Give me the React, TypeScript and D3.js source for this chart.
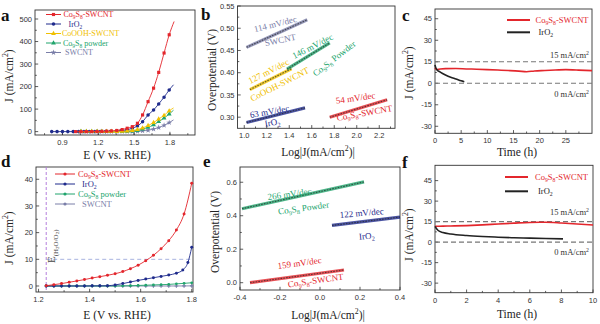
import React from 'react';
import * as d3 from 'd3';

const RED = '#e3262c';
const NAVY = '#1f2b8c';
const GOLD = '#f0c000';
const GREEN = '#20a46c';
const GRAY = '#7a7ea8';
const DARK = '#222';
const SERIF = '"Liberation Serif", "Times New Roman", serif';
const SANS = '"Liberation Sans", Arial, sans-serif';

// ---------- Panel a (LSV, full) ----------
const aRedE = [1.01, 1.055, 1.1, 1.145, 1.19, 1.23, 1.27, 1.31, 1.355, 1.4, 1.442, 1.485, 1.528, 1.571, 1.617, 1.663, 1.706, 1.751, 1.794, 1.835];
const aRedJ = [0, 0, 0, 0, 0.5, 1, 2, 3, 5, 9, 15, 22, 37, 74, 133, 193, 263, 349, 430, 489];
const aBlueE = [0.81, 0.855, 0.9, 0.945, 0.99, 1.035, 1.08, 1.125, 1.17, 1.215, 1.26, 1.3, 1.35, 1.39, 1.44, 1.485, 1.528, 1.571, 1.617, 1.663, 1.706, 1.751, 1.794, 1.83];
const aBlueJ = [0, 0, 0, 0, 0, 0, 0, 0, 0, 0, 0, 0.5, 1.5, 4, 8, 15, 25, 44, 74, 96, 123, 153, 185, 208];
const aOtherE = [1.055, 1.1, 1.145, 1.19, 1.23, 1.27, 1.31, 1.355, 1.4, 1.442, 1.485, 1.528, 1.571, 1.617, 1.663, 1.706, 1.751, 1.794, 1.83];
const aGoldJ = [0, 0, 0, 0, 0, 0, 0, 0.5, 1, 2, 5, 9, 16, 27, 40, 56, 72, 92, 105];
const aGreenJ = [0, 0, 0, 0, 0, 0, 0, 0, 0.5, 1, 2, 5, 11, 19, 30, 44, 60, 78, 95];
const aGrayJ = [0, 0, 0, 0, 0, 0, 0, 0, 0, 0, 0.5, 1, 3, 6, 11, 18, 28, 40, 52];
const aLegend = ['Co_9S_8-SWCNT', 'IrO_2', 'CoOOH-SWCNT', 'Co_9S_8 powder', 'SWCNT'];

// ---------- Panel b (Tafel, full) ----------
const bSWCNT = [[1.02, 0.457], [1.56, 0.519]];
const bCoOOH = [[1.05, 0.362], [1.42, 0.409]];
const bPowder = [[1.38, 0.408], [1.76, 0.467]];
const bIrO2 = [[1.02, 0.288], [1.54, 0.321]];
const bCoS = [[1.76, 0.300], [2.27, 0.339]];

// ---------- Panel c (stability, full) ----------
const cRedT = [0, 0.3, 1, 2, 4, 6, 8, 10, 12, 14, 16, 17.5, 19, 21, 23, 25, 27, 30];
const cRedJ = [10.8, 9.6, 10, 10.2, 10.3, 10, 9.8, 9.5, 9.2, 8.9, 8.5, 8.0, 8.6, 8.9, 9.2, 9.5, 9.2, 8.8];
const cBlackT = [0, 0.15, 0.4, 1, 2, 3, 4, 5, 5.6];
const cBlackJ = [12.8, 10.8, 9.3, 7.8, 5.8, 4.2, 3.0, 1.7, 1.1];

// ---------- Panel d (LSV, near onset) ----------
const dE = [1.23, 1.26, 1.29, 1.32, 1.35, 1.38, 1.41, 1.44, 1.47, 1.5, 1.53, 1.56, 1.59, 1.62, 1.65, 1.68, 1.71, 1.74, 1.77, 1.8];
const dRedJ = [0.1, 0.5, 0.9, 1.4, 1.9, 2.4, 3.0, 3.5, 4.0, 4.6, 5.4, 6.5, 7.8, 9.5, 11.5, 14, 17, 21, 27, 38.5];
const dBlueE = [1.23, 1.26, 1.29, 1.32, 1.35, 1.38, 1.41, 1.44, 1.47, 1.5, 1.53, 1.56, 1.59, 1.62, 1.65, 1.68, 1.71, 1.74, 1.765, 1.785, 1.8];
const dBlueJ = [0, 0, 0, 0, 0, 0, 0.05, 0.05, 0.1, 0.4, 0.9, 1.5, 2.1, 2.6, 3.1, 3.6, 4.1, 4.8, 6.0, 8.8, 14.5];
const dGreenJ = [0, 0, 0, 0, 0, 0, 0, 0, 0, 0, 0.05, 0.1, 0.2, 0.3, 0.4, 0.5, 0.6, 0.8, 1.0, 1.2];
const dGrayJ = [0, 0, 0, 0, 0, 0, 0, 0, 0, 0, 0, 0, 0, 0, 0, 0, 0, 0, 0.02, 0.05];
const dLegend = ['Co_9S_8-SWCNT', 'IrO_2', 'Co_9S_8 powder', 'SWCNT'];

// ---------- Panel e (Tafel, onset) ----------
const ePowder = [[-0.39, 0.442], [0.22, 0.602]];
const eIrO2 = [[0.06, 0.342], [0.40, 0.392]];
const eCoS = [[-0.35, 0.0], [0.12, 0.076]];

// ---------- Panel f (stability, onset) ----------
const fRedT = [0, 0.5, 1, 2, 3, 4, 5, 6, 7, 8, 9, 10];
const fRedJ = [11.6, 11.7, 11.8, 12.1, 12.6, 13.3, 13.9, 14.4, 14.5, 14.0, 13.3, 12.5];
const fBlackT = [0, 0.1, 0.2, 0.5, 1, 2, 3, 4, 5, 6, 7, 8.1];
const fBlackJ = [11.5, 9.8, 8.5, 7.0, 5.9, 4.8, 4.1, 3.6, 3.2, 2.9, 2.6, 2.4];

function Rich({ s, fs }: { s: string; fs: number }) {
  const parts: any[] = [];
  let buf = '';
  let pending = 0;
  let key = 0;
  const flush = () => {
    if (buf) {
      parts.push(<tspan key={key++} dy={pending || undefined} fontSize={fs}>{buf}</tspan>);
      buf = '';
      pending = 0;
    }
  };
  let i = 0;
  while (i < s.length) {
    const c = s[i];
    if ((c === '_' || c === '^') && i + 1 < s.length) {
      flush();
      let content = s[i + 1];
      i += 2;
      if (content === '{') {
        const j = s.indexOf('}', i);
        content = s.slice(i, j);
        i = j + 1;
      }
      const shift = c === '_' ? fs * 0.25 : -fs * 0.4;
      parts.push(<tspan key={key++} dy={shift + pending} fontSize={fs * 0.68}>{content}</tspan>);
      pending = -shift;
    } else {
      buf += c;
      i++;
    }
  }
  flush();
  return <>{parts}</>;
}

type Scale = d3.ScaleLinear<number, number>;

function Frame({ x, y, xt, xm, yt, ym, xf, yf }: { x: Scale; y: Scale; xt: number[]; xm: number[]; yt: number[]; ym: number[]; xf: (v: number) => string; yf: (v: number) => string }) {
  const [x0, x1] = x.range();
  const [y0, y1] = y.range();
  const st = '#333';
  return (
    <g>
      <rect x={x0} y={y1} width={x1 - x0} height={y0 - y1} fill="none" stroke={st} strokeWidth={0.9} />
      {xm.map((t) => <line key={'xm' + t} x1={x(t)} x2={x(t)} y1={y0} y2={y0 - 1.8} stroke={st} strokeWidth={0.8} />)}
      {ym.map((t) => <line key={'ym' + t} x1={x0} x2={x0 + 1.8} y1={y(t)} y2={y(t)} stroke={st} strokeWidth={0.8} />)}
      {xt.map((t) => (
        <g key={'xt' + t}>
          <line x1={x(t)} x2={x(t)} y1={y0} y2={y0 - 3.2} stroke={st} strokeWidth={0.8} />
          <text x={x(t)} y={y0 + 10} textAnchor="middle" fontFamily={SANS} fontSize={7.5} fill={st}>{xf(t)}</text>
        </g>
      ))}
      {yt.map((t) => (
        <g key={'yt' + t}>
          <line x1={x0} x2={x0 + 3.2} y1={y(t)} y2={y(t)} stroke={st} strokeWidth={0.8} />
          <text x={x0 - 3} y={y(t) + 2.6} textAnchor="end" fontFamily={SANS} fontSize={7.5} fill={st}>{yf(t)}</text>
        </g>
      ))}
    </g>
  );
}

function XTitle({ x, y, s }: { x: number; y: number; s: string }) {
  return <text x={x} y={y} textAnchor="middle" fontFamily={SERIF} fontSize={11.5} fill={DARK}><Rich s={s} fs={11.5} /></text>;
}
function YTitle({ x, y, s }: { x: number; y: number; s: string }) {
  return <text transform={`translate(${x},${y}) rotate(-90)`} textAnchor="middle" fontFamily={SERIF} fontSize={11.5} fill={DARK}><Rich s={s} fs={11.5} /></text>;
}
function PLabel({ x, y, s }: { x: number; y: number; s: string }) {
  return <text x={x} y={y} fontFamily={SERIF} fontWeight="bold" fontSize={17} fill="#111">{s}</text>;
}
function Lbl({ x, y, s, c, r = 0, fs = 9, anchor = 'middle' }: { x: number; y: number; s: string; c: string; r?: number; fs?: number; anchor?: string }) {
  return (
    <text transform={`translate(${x},${y}) rotate(${r})`} textAnchor={anchor as any} fontFamily={SERIF} fontSize={fs} fill={c}>
      <Rich s={s} fs={fs} />
    </text>
  );
}

const sym = (type: d3.SymbolType, size: number) => d3.symbol().type(type).size(size)() as string;

function Series({ x, y, E, J, color, mark, size = 10, skipLast = false }: { x: Scale; y: Scale; E: number[]; J: number[]; color: string; mark: d3.SymbolType; size?: number; skipLast?: boolean }) {
  const pts = E.map((e, i) => [e, J[i]] as [number, number]);
  const line = d3.line<[number, number]>().x((d) => x(d[0])).y((d) => y(d[1])).curve(d3.curveMonotoneX);
  const mp = skipLast ? pts.slice(0, -1) : pts;
  const p = sym(mark, size);
  return (
    <g>
      <path d={line(pts) || ''} fill="none" stroke={color} strokeWidth={0.9} />
      {mp.map((d, i) => <path key={i} d={p} transform={`translate(${x(d[0])},${y(d[1])})`} fill={color} />)}
    </g>
  );
}

function Tafel({ x, y, seg, color }: { x: Scale; y: Scale; seg: number[][]; color: string }) {
  const l = d3.line<number[]>().x((d) => x(d[0])).y((d) => y(d[1]));
  const dd = l(seg) || '';
  return (
    <g>
      <path d={dd} stroke={color} strokeWidth={3.2} fill="none" opacity={0.8} />
      <path d={dd} stroke="#222" strokeWidth={1.1} fill="none" strokeDasharray="1.6,1.2" opacity={0.7} />
    </g>
  );
}

function Trace({ x, y, T, J, color, w = 1.6 }: { x: Scale; y: Scale; T: number[]; J: number[]; color: string; w?: number }) {
  const l = d3.line<number>().x((t) => x(t)).y((_, i) => y(J[i])).curve(d3.curveMonotoneX);
  return <path d={l(T) || ''} stroke={color} strokeWidth={w} fill="none" />;
}

function LegendRow({ x1, x2, y, color, mark, text, tx, size = 10, fs = 8 }: { x1: number; x2: number; y: number; color: string; mark?: d3.SymbolType; text: string; tx: number; size?: number; fs?: number }) {
  return (
    <g>
      <line x1={x1} x2={x2} y1={y} y2={y} stroke={color} strokeWidth={mark ? 1 : 2} />
      {mark && <path d={sym(mark, size)} transform={`translate(${(x1 + x2) / 2},${y})`} fill={color} />}
      <text x={tx} y={y + 2.8} fontFamily={SERIF} fontSize={fs} fill={color}><Rich s={text} fs={fs} /></text>
    </g>
  );
}

const f1 = (v: number) => v.toFixed(1);
const f2 = (v: number) => v.toFixed(2);
const f0 = (v: number) => String(v);
const range = (a: number, b: number, s: number) => d3.range(a, b + s / 2, s).map((v) => +v.toFixed(4));

export default function App() {
  const ax = d3.scaleLinear().domain([0.67, 2.01]).range([35, 195]);
  const ay = d3.scaleLinear().domain([-15, 540]).range([135, 10]);
  const bx = d3.scaleLinear().domain([0.94, 2.34]).range([237.5, 395]);
  const by = d3.scaleLinear().domain([0.275, 0.55]).range([128.3, 6]);
  const cx = d3.scaleLinear().domain([0, 30]).range([435, 592]);
  const cy = d3.scaleLinear().domain([-34.9, 51.8]).range([133.3, 9]);
  const dx = d3.scaleLinear().domain([1.19, 1.805]).range([36, 193]);
  const dy = d3.scaleLinear().domain([-2.25, 44.6]).range([292, 167]);
  const ex = d3.scaleLinear().domain([-0.4, 0.4]).range([240, 400]);
  const ey = d3.scaleLinear().domain([-0.0436, 0.691]).range([290, 167]);
  const fx = d3.scaleLinear().domain([0, 10]).range([435, 593]);
  const fy = d3.scaleLinear().domain([-37, 56.2]).range([292.7, 165.3]);

  const aLegY = [14.5, 24, 33.5, 43, 52.5];
  const dLegY = [174, 184, 194, 204];

  return (
    <svg width={600} height={324} style={{ position: 'absolute', left: 0, top: 0, background: '#fff' }} xmlns="http://www.w3.org/2000/svg">
      <rect width={600} height={324} fill="#fff" />

      {/* ===== a ===== */}
      <Frame x={ax} y={ay} xt={range(0.9, 1.8, 0.3)} xm={range(0.75, 1.95, 0.15)} yt={range(0, 500, 100)} ym={range(50, 500, 100)} xf={f1} yf={f0} />
      <Series x={ax} y={ay} E={aBlueE} J={aBlueJ} color={NAVY} mark={d3.symbolCircle} skipLast />
      <Series x={ax} y={ay} E={aOtherE} J={aGrayJ} color={GRAY} mark={d3.symbolStar} skipLast />
      <Series x={ax} y={ay} E={aOtherE} J={aGreenJ} color={GREEN} mark={d3.symbolTriangle} skipLast />
      <Series x={ax} y={ay} E={aOtherE} J={aGoldJ} color={GOLD} mark={d3.symbolTriangle} skipLast />
      <Series x={ax} y={ay} E={aRedE} J={aRedJ} color={RED} mark={d3.symbolSquare} skipLast />
      <LegendRow x1={46} x2={61} y={aLegY[0]} color={RED} mark={d3.symbolSquare} text={aLegend[0]} tx={63.5} />
      <LegendRow x1={46} x2={61} y={aLegY[1]} color={NAVY} mark={d3.symbolCircle} text={aLegend[1]} tx={68.5} />
      <LegendRow x1={46} x2={61} y={aLegY[2]} color={GOLD} mark={d3.symbolTriangle} text={aLegend[2]} tx={62} />
      <LegendRow x1={46} x2={61} y={aLegY[3]} color={GREEN} mark={d3.symbolTriangle} text={aLegend[3]} tx={63} />
      <LegendRow x1={46} x2={61} y={aLegY[4]} color={GRAY} mark={d3.symbolStar} text={aLegend[4]} tx={65} />
      <YTitle x={13} y={76} s="J (mA/cm^2)" />
      <XTitle x={117} y={159} s="E (V vs. RHE)" />
      <PLabel x={1} y={21} s="a" />

      {/* ===== b ===== */}
      <Frame x={bx} y={by} xt={range(1.0, 2.2, 0.2)} xm={range(1.1, 2.3, 0.2)} yt={range(0.3, 0.55, 0.05)} ym={range(0.325, 0.525, 0.05)} xf={f1} yf={f2} />
      <Tafel x={bx} y={by} seg={bSWCNT} color={GRAY} />
      <Tafel x={bx} y={by} seg={bCoOOH} color={GOLD} />
      <Tafel x={bx} y={by} seg={bPowder} color={GREEN} />
      <Tafel x={bx} y={by} seg={bIrO2} color={NAVY} />
      <Tafel x={bx} y={by} seg={bCoS} color={RED} />
      <Lbl x={276} y={27} s="114 mV/dec" c={GRAY} r={-14} />
      <Lbl x={281} y={43} s="SWCNT" c={GRAY} r={-12} />
      <Lbl x={270} y={74} s="127 mV/dec" c={GOLD} r={-27} />
      <Lbl x={281} y={87} s="CoOOH-SWCNT" c={GOLD} r={-27} />
      <Lbl x={314} y={49} s="146 mV/dec" c={GREEN} r={-27} />
      <Lbl x={336} y={61} s="Co_9S_8 Powder" c={GREEN} r={-38} />
      <Lbl x={270} y={114.5} s="63 mV/dec" c={NAVY} r={-10} />
      <Lbl x={273} y={125.5} s="IrO_2" c={NAVY} r={-10} />
      <Lbl x={356} y={101} s="54 mV/dec" c={RED} r={-8} />
      <Lbl x={365} y={116} s="Co_9S_8-SWCNT" c={RED} r={-10} />
      <YTitle x={216} y={70} s="Overpotential (V)" />
      <XTitle x={318} y={155.5} s="Log|J(mA/cm^2)|" />
      <PLabel x={201} y={20} s="b" />

      {/* ===== c ===== */}
      <Frame x={cx} y={cy} xt={range(0, 25, 5)} xm={range(2.5, 27.5, 5)} yt={range(-30, 45, 15)} ym={range(-22.5, 37.5, 15)} xf={f0} yf={f0} />
      <line x1={435} x2={592} y1={cy(15)} y2={cy(15)} stroke="#777" strokeWidth={1.1} strokeDasharray="5,3" />
      <line x1={435} x2={592} y1={cy(0)} y2={cy(0)} stroke="#777" strokeWidth={1.1} strokeDasharray="5,3" />
      <Trace x={cx} y={cy} T={cRedT} J={cRedJ} color={RED} />
      <Trace x={cx} y={cy} T={cBlackT} J={cBlackJ} color="#222" w={1.6} />
      <Lbl x={589} y={58} s="15 mA/cm^2" c="#333" fs={8.5} anchor="end" />
      <Lbl x={589} y={97} s="0 mA/cm^2" c="#333" fs={8.5} anchor="end" />
      <LegendRow x1={507} x2={530} y={20} color={RED} text="Co_9S_8-SWCNT" tx={535.5} fs={8.5} />
      <LegendRow x1={507} x2={530} y={32.3} color="#222" text="IrO_2" tx={538.5} fs={8.5} />
      <YTitle x={413} y={73} s="J (mA/cm^2)" />
      <XTitle x={517} y={155.5} s="Time (h)" />
      <PLabel x={402} y={21} s="c" />

      {/* ===== d ===== */}
      <Frame x={dx} y={dy} xt={range(1.2, 1.8, 0.2)} xm={range(1.3, 1.7, 0.2)} yt={range(0, 40, 10)} ym={range(5, 35, 10)} xf={f1} yf={f0} />
      <line x1={dx(1.23)} x2={dx(1.23)} y1={167} y2={292} stroke="#b57fdc" strokeWidth={1} strokeDasharray="3,2" />
      <line x1={dx(1.23)} x2={193} y1={dy(10)} y2={dy(10)} stroke="#a9b3e0" strokeWidth={1} strokeDasharray="4,3" />
      <text transform={`translate(${dx(1.23) + 9},263) rotate(-90)`} fontFamily={SERIF} fontSize={11} fill="#444">
        <tspan>E</tspan>
        <tspan dy={2.5} fontSize={7}>(H</tspan>
        <tspan dy={1.5} fontSize={5}>2</tspan>
        <tspan dy={-1.5} fontSize={7}>O/O</tspan>
        <tspan dy={1.5} fontSize={5}>2</tspan>
        <tspan dy={-1.5} fontSize={7}>)</tspan>
      </text>
      <Series x={dx} y={dy} E={dE} J={dGrayJ} color={GRAY} mark={d3.symbolCross} size={7} />
      <Series x={dx} y={dy} E={dE} J={dGreenJ} color={GREEN} mark={d3.symbolCircle} size={6} />
      <Series x={dx} y={dy} E={dBlueE} J={dBlueJ} color={NAVY} mark={d3.symbolCircle} size={7} />
      <Series x={dx} y={dy} E={dE} J={dRedJ} color={RED} mark={d3.symbolCircle} size={7} />
      <LegendRow x1={55} x2={75} y={dLegY[0]} color={RED} mark={d3.symbolCircle} size={8} text={dLegend[0]} tx={78} fs={8.5} />
      <LegendRow x1={55} x2={75} y={dLegY[1]} color={NAVY} mark={d3.symbolCircle} size={8} text={dLegend[1]} tx={82} fs={8.5} />
      <LegendRow x1={55} x2={75} y={dLegY[2]} color={GREEN} mark={d3.symbolCircle} size={8} text={dLegend[2]} tx={78} fs={8.5} />
      <LegendRow x1={55} x2={75} y={dLegY[3]} color={GRAY} mark={d3.symbolCircle} size={8} text={dLegend[3]} tx={82} fs={8.5} />
      <YTitle x={13} y={238} s="J (mA/cm^2)" />
      <XTitle x={117} y={319} s="E (V vs. RHE)" />
      <PLabel x={1} y={167} s="d" />

      {/* ===== e ===== */}
      <Frame x={ex} y={ey} xt={range(-0.4, 0.4, 0.2)} xm={range(-0.3, 0.3, 0.2)} yt={range(0, 0.6, 0.2)} ym={range(0.1, 0.5, 0.2)} xf={f1} yf={f1} />
      <Tafel x={ex} y={ey} seg={ePowder} color={GREEN} />
      <Tafel x={ex} y={ey} seg={eIrO2} color={NAVY} />
      <Tafel x={ex} y={ey} seg={eCoS} color={RED} />
      <Lbl x={290} y={197} s="266 mV/dec" c={GREEN} r={-8} />
      <Lbl x={304} y={211} s="Co_9S_8 Powder" c={GREEN} r={-8} />
      <Lbl x={362} y={216} s="122 mV/dec" c={NAVY} r={-5} />
      <Lbl x={367} y={239} s="IrO_2" c={NAVY} r={-5} />
      <Lbl x={300} y={266} s="159 mV/dec" c={RED} r={-8} />
      <Lbl x={316} y={283.5} s="Co_9S_8-SWCNT" c={RED} r={-8} />
      <YTitle x={219} y={232} s="Overpotential (V)" />
      <XTitle x={328} y={319} s="Log|J(mA/cm^2)|" />
      <PLabel x={203} y={167} s="e" />

      {/* ===== f ===== */}
      <Frame x={fx} y={fy} xt={range(0, 10, 2)} xm={range(1, 9, 2)} yt={range(-30, 45, 15)} ym={range(-22.5, 37.5, 15)} xf={f0} yf={f0} />
      <line x1={435} x2={593} y1={fy(15)} y2={fy(15)} stroke="#777" strokeWidth={1.1} strokeDasharray="5,3" />
      <line x1={435} x2={593} y1={fy(0)} y2={fy(0)} stroke="#777" strokeWidth={1.1} strokeDasharray="5,3" />
      <Trace x={fx} y={fy} T={fRedT} J={fRedJ} color={RED} />
      <Trace x={fx} y={fy} T={fBlackT} J={fBlackJ} color="#222" />
      <Lbl x={589} y={215} s="15 mA/cm^2" c="#333" fs={8.5} anchor="end" />
      <Lbl x={589} y={255} s="0 mA/cm^2" c="#333" fs={8.5} anchor="end" />
      <LegendRow x1={505} x2={528} y={177} color={RED} text="Co_9S_8-SWCNT" tx={535} fs={8.5} />
      <LegendRow x1={505} x2={528} y={191.3} color="#222" text="IrO_2" tx={538} fs={8.5} />
      <YTitle x={413} y={235} s="J (mA/cm^2)" />
      <XTitle x={517} y={318} s="Time (h)" />
      <PLabel x={402} y={168} s="f" />
    </svg>
  );
}
